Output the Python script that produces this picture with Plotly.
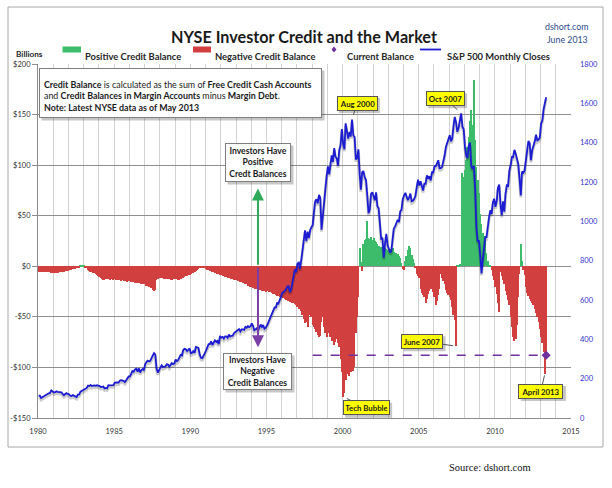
import plotly.graph_objects as go
import pandas as pd

# ---------------- data ----------------
# NYSE credit balance, $ billions, monthly Jan-1980 .. May-2013
credit = [
    # 1980
    -6, -6, -6, -6, -6, -6, -6, -6, -6, -6, -7, -7,
    # 1981
    -7, -7, -7, -7, -6, -6, -6, -6, -6, -5, -5, -5,
    # 1982
    -4, -4, -4, -3, -3, -3, -2, -2, -1, 0.5, 1, 1.5,
    # 1983
    1, -1, -2, -4, -5, -6, -6, -7, -7, -8, -9, -10,
    # 1984
    -11, -12, -13, -14, -14, -13, -13, -13, -14, -13, -13, -14,
    # 1985
    -13, -14, -14, -14, -14, -15, -14, -15, -15, -15, -16, -15,
    # 1986
    -15, -16, -16, -16, -17, -16, -17, -17, -17, -18, -18, -18,
    # 1987
    -18, -19, -19, -20, -20, -21, -23, -24, -23, -14, -13, -12,
    # 1988
    -12, -12, -12, -13, -13, -13, -13, -13, -14, -14, -13, -13,
    # 1989
    -13, -13, -14, -14, -13, -12, -12, -11, -10, -10, -9, -9,
    # 1990
    -8, -7, -7, -6, -5, -4, -3, -2, -1, -1, -1.5, -2,
    # 1991
    -3, -4, -4, -5, -5, -6, -6, -7, -7, -8, -8, -9,
    # 1992
    -9, -10, -10, -11, -11, -12, -12, -12, -13, -13, -14, -14,
    # 1993
    -14, -15, -15, -16, -16, -17, -17, -18, -18, -19, -19, -20,
    # 1994
    -20, -21, -21, -22, -22, -22, -23, -23, -24, -24, -24, -25,
    # 1995
    -24, -24, -25, -25, -26, -27, -27, -28, -29, -29, -30, -30,
    # 1996
    -30, -31, -32, -33, -33, -34, -35, -34, -36, -36, -37, -38,
    # 1997
    -40, -42, -38, -44, -48, -52, -56, -55, -60, -48, -45, -50,
    # 1998
    -58, -60, -62, -65, -68, -70, -69, -55, -50, -60, -66, -70,
    # 1999
    -66, -60, -70, -74, -72, -78, -75, -72, -76, -80, -92, -105,
    # 2000
    -129, -125, -112, -106, -102, -108, -105, -100, -104, -100, -66, -50,
    # 2001
    -30, 18, 4, -5, 22, 26, 27, 45, 28, 27, 29, 26,
    # 2002
    28, 25, 24, 22, 20, 19, 18, 19, 17, 18, 17, 16,
    # 2003
    16, 15, 17, 18, 14, 13, 13, 12, 10, 8, 3, -3,
    # 2004
    -4, 5, 10, 16, 20, 18, 11, 7, 3, -2, -8, -10,
    # 2005
    -12, -22, -26, -28, -30, -36, -32, -27, -24, -22, -17, -25,
    # 2006
    -30, -38, -34, -28, -22, -8, -12, -15, -18, -23, -26, -28,
    # 2007
    -30, -33, -40, -48, -53, -79, 0.5, 1, 2, 2, 92, 88,
    # 2008
    95, 105, 118, 128, 144, 155, 140, 184, 125, 98, 85, 72,
    # 2009
    52, 42, 33, 30, 26, 13, 5, 1, 0.5, -4, -10, -14,
    # 2010
    -20, -27, -36, -45, -6, -10, -14, -18, -24, -28, -33, -38,
    # 2011
    -50, -60, -70, -74, -72, -58, -30, -8, 22, 5, -4, -9,
    # 2012
    -20, -26, -29, -32, -34, -36, -38, -42, -46, -50, -55, -62,
    # 2013
    -70, -76, -85, -106, -88,
]

# S&P 500 monthly closes, Jan-1980 .. May-2013
sp500 = [
    114.16, 113.66, 102.09, 106.29, 111.24, 114.24, 121.67, 122.38, 125.46, 127.47, 140.52, 135.76,
    129.55, 131.27, 136.00, 132.81, 132.59, 131.21, 130.92, 122.79, 116.18, 121.89, 126.35, 122.55,
    120.40, 113.11, 111.96, 116.44, 111.88, 109.61, 107.09, 119.51, 120.42, 133.71, 138.54, 140.64,
    145.30, 148.06, 152.96, 164.42, 162.39, 168.11, 162.56, 164.40, 166.07, 163.55, 166.40, 164.93,
    163.41, 157.06, 159.18, 160.05, 150.55, 153.18, 150.66, 166.68, 166.10, 166.09, 163.58, 167.24,
    179.63, 181.18, 180.66, 179.83, 189.55, 191.85, 190.92, 188.63, 182.08, 189.82, 202.17, 211.28,
    211.78, 226.92, 238.90, 235.52, 247.35, 250.84, 236.12, 252.93, 231.32, 243.98, 249.22, 242.17,
    274.08, 284.20, 291.70, 288.36, 290.10, 304.00, 318.66, 329.80, 321.83, 251.79, 230.30, 247.08,
    257.07, 267.82, 258.89, 261.33, 262.16, 273.50, 272.02, 261.52, 271.91, 278.97, 273.70, 277.72,
    297.47, 288.86, 294.87, 309.64, 320.52, 317.98, 346.08, 351.45, 349.15, 340.36, 345.99, 353.40,
    329.08, 331.89, 339.94, 330.80, 361.23, 358.02, 356.15, 322.56, 306.05, 304.00, 322.22, 330.22,
    343.93, 367.07, 375.22, 375.35, 389.83, 371.16, 387.81, 395.43, 387.86, 392.46, 375.22, 417.09,
    408.79, 412.70, 403.69, 414.95, 415.35, 408.14, 424.21, 414.03, 417.80, 418.68, 431.35, 435.71,
    438.78, 443.38, 451.67, 440.19, 450.19, 450.53, 448.13, 463.56, 458.93, 467.83, 461.79, 466.45,
    481.61, 467.14, 445.77, 450.91, 456.50, 444.27, 458.26, 475.49, 462.69, 472.35, 453.69, 459.27,
    470.42, 487.39, 500.71, 514.71, 533.40, 544.75, 562.06, 561.88, 584.41, 581.50, 605.37, 615.93,
    636.02, 640.43, 645.50, 654.17, 669.12, 670.63, 639.95, 651.99, 687.33, 705.27, 757.02, 740.74,
    786.16, 790.82, 757.12, 801.34, 848.28, 885.14, 954.29, 899.47, 947.28, 914.62, 955.40, 970.43,
    980.28, 1049.34, 1101.75, 1111.75, 1090.82, 1133.84, 1120.67, 957.28, 1017.01, 1098.67, 1163.63, 1229.23,
    1279.64, 1238.33, 1286.37, 1335.18, 1301.84, 1372.71, 1328.72, 1320.41, 1282.71, 1362.93, 1388.91, 1469.25,
    1394.46, 1366.42, 1498.58, 1452.43, 1420.60, 1454.60, 1430.83, 1517.68, 1436.51, 1429.40, 1314.95, 1320.28,
    1366.01, 1239.94, 1160.33, 1249.46, 1255.82, 1224.42, 1211.23, 1133.58, 1040.94, 1059.78, 1139.45, 1148.08,
    1130.20, 1106.73, 1147.39, 1076.92, 1067.14, 989.82, 911.62, 916.07, 815.28, 885.76, 936.31, 879.82,
    855.70, 841.15, 848.18, 916.92, 963.59, 974.50, 990.31, 1008.01, 995.97, 1050.71, 1058.20, 1111.92,
    1131.13, 1144.94, 1126.21, 1107.30, 1120.68, 1140.84, 1101.72, 1104.24, 1114.58, 1130.20, 1173.82, 1211.92,
    1181.27, 1203.60, 1180.59, 1156.85, 1191.50, 1191.33, 1234.18, 1220.33, 1228.81, 1207.01, 1249.48, 1248.29,
    1280.08, 1280.66, 1294.83, 1310.61, 1270.09, 1270.20, 1276.66, 1303.82, 1335.85, 1377.94, 1400.63, 1418.30,
    1438.24, 1406.82, 1420.86, 1482.37, 1530.62, 1503.35, 1455.27, 1473.99, 1526.75, 1549.38, 1481.14, 1468.36,
    1378.55, 1330.63, 1322.70, 1385.59, 1400.38, 1280.00, 1267.38, 1282.83, 1166.36, 968.75, 896.24, 903.25,
    825.88, 735.09, 797.87, 872.81, 919.14, 919.32, 987.48, 1020.62, 1057.08, 1036.19, 1095.63, 1115.10,
    1073.87, 1104.49, 1169.43, 1186.69, 1089.41, 1030.71, 1101.60, 1049.33, 1141.20, 1183.26, 1180.55, 1257.64,
    1286.12, 1327.22, 1325.83, 1363.61, 1345.20, 1320.64, 1292.28, 1218.89, 1131.42, 1253.30, 1246.96, 1257.60,
    1312.41, 1365.68, 1408.47, 1397.91, 1310.33, 1362.16, 1379.32, 1406.58, 1440.67, 1412.16, 1416.18, 1426.19,
    1498.11, 1514.68, 1569.19, 1597.57, 1630.74,
]

first_month = "1980-01"
dashed_from = "1998-01"          # start of the "current balance" reference line
left_ticks = [-150, -100, -50, 0, 50, 100, 150, 200]
left_labels = ["-$150", "-$100", "-$50", "$0", "$50", "$100", "$150", "$200"]
right_ticks = [0, 200, 400, 600, 800, 1000, 1200, 1400, 1600, 1800]
x_tick_years = [1980, 1985, 1990, 1995, 2000, 2005, 2010, 2015]

# ---------------- styling ----------------
GREEN = "#3dbd6c"
RED = "#d13f3f"
PURPLE = "#7030a0"
BLUE = "#1c1cd2"
RIGHT_BLUE = "#3333cc"
FONT = "Lato"
W, H = 612, 488
ML, MR, MT, MB = 38, 41, 64, 70
PW, PH = W - ML - MR, H - MT - MB
SHADOW = "rgba(0,0,0,0.22)"
SH = 2.5   # shadow offset in px


def px(xpix):   # pixel -> paper x
    return (xpix - ML) / PW


def py(ypix):   # pixel -> paper y
    return (H - MB - ypix) / PH


months = pd.date_range(first_month + "-01", periods=len(credit), freq="MS")
dates = months + pd.Timedelta(days=14)
month_keys = list(months.strftime("%Y-%m"))
pos = [v if v > 0 else None for v in credit]
neg = [v if v < 0 else None for v in credit]
dash_idx = month_keys.index(dashed_from)

fig = go.Figure()
fig.add_trace(go.Bar(x=dates, y=pos, marker=dict(color=GREEN, line=dict(width=0)),
                     name="Positive Credit Balance", showlegend=False))
fig.add_trace(go.Bar(x=dates, y=neg, marker=dict(color=RED, line=dict(width=0)),
                     name="Negative Credit Balance", showlegend=False))
fig.add_trace(go.Scatter(x=[dates[dash_idx], dates[-1]], y=[credit[-1], credit[-1]],
                         mode="lines", line=dict(color=PURPLE, width=1.4, dash="dash"),
                         showlegend=False, hoverinfo="skip"))
fig.add_trace(go.Scatter(x=[dates[-1]], y=[credit[-1]], mode="markers",
                         marker=dict(symbol="diamond", size=7, color=PURPLE),
                         name="Current Balance", showlegend=False))
# soft shadow of the S&P line (same data on an invisible, slightly shifted axis)
fig.add_trace(go.Scatter(x=dates, y=sp500, yaxis="y2", mode="lines",
                         line=dict(color="rgba(0,0,0,0.20)", width=3),
                         showlegend=False, hoverinfo="skip"))
fig.add_trace(go.Scatter(x=dates, y=sp500, yaxis="y3", mode="lines",
                         line=dict(color=BLUE, width=1.8),
                         name="S&P 500 Monthly Closes", showlegend=False))

shadow_shift = 2 * 1800 / PH
fig.update_layout(
    width=W, height=H, autosize=False,
    margin=dict(l=ML, r=MR, t=MT, b=MB, autoexpand=False),
    paper_bgcolor="white", plot_bgcolor="white",
    barmode="overlay", bargap=0,
    font=dict(family=FONT, color="#262626"),
    xaxis=dict(type="date", range=["1980-01-01", "2015-01-01"],
               tickvals=[f"{y}-01-01" for y in x_tick_years],
               ticktext=[str(y) for y in x_tick_years],
               tickfont=dict(size=7.5, color="#333333", family=FONT),
               showgrid=True, gridcolor="#d3d3d3", gridwidth=1,
               minor=dict(dtick="M12", showgrid=True, gridcolor="#d3d3d3"),
               showline=True, linecolor="#8c8c8c", linewidth=1,
               ticks="", ticklabelstandoff=6, zeroline=False),
    yaxis=dict(range=[-150, 200], tickvals=left_ticks, ticktext=left_labels,
               tickfont=dict(size=7.5, color="#333333", family=FONT),
               showgrid=True, gridcolor="#8f8f8f", gridwidth=1, zeroline=False,
               showline=True, linecolor="#8c8c8c", ticks="outside", ticklen=5,
               tickcolor="#8f8f8f"),
    yaxis2=dict(overlaying="y", range=[shadow_shift, 1800 + shadow_shift], visible=False),
    yaxis3=dict(overlaying="y", side="right", range=[0, 1800], tickvals=right_ticks,
                tickfont=dict(size=7.5, color=RIGHT_BLUE, family=FONT),
                showgrid=False, zeroline=False, showline=False, ticks="",
                ticklabelstandoff=8),
)

shapes = []
ann = []

# outer frame
shapes.append(dict(type="rect", xref="paper", yref="paper", x0=px(8), x1=px(603),
                   y0=py(447), y1=py(7), line=dict(color="#a8a8a8", width=1),
                   fillcolor="rgba(0,0,0,0)", layer="below"))

# title and credits
ann.append(dict(text="<b>NYSE Investor Credit and the Market</b>", xref="paper", yref="paper",
                x=px(304), y=py(25), showarrow=False, font=dict(size=16.2, color="#1a1a1a")))
ann.append(dict(text="dshort.com", xref="paper", yref="paper", x=px(590), y=py(19),
                xanchor="right", showarrow=False, font=dict(size=8.8, color="#2e4a8e")))
ann.append(dict(text="June 2013", xref="paper", yref="paper", x=px(590), y=py(32),
                xanchor="right", showarrow=False, font=dict(size=8.8, color="#2e4a8e")))
ann.append(dict(text="Source: dshort.com", xref="paper", yref="paper", x=px(533), y=py(475),
                showarrow=False, font=dict(size=10.5, color="#111111", family="Liberation Serif")))
ann.append(dict(text="<b>Billions</b>", xref="paper", yref="paper", x=px(14), y=py(47.5),
                xanchor="left", showarrow=False, font=dict(size=8.2, color="#262626")))

# manual legend
LEG_Y = 49.5
shapes.append(dict(type="rect", xref="paper", yref="paper", x0=px(62.5), x1=px(81),
                   y0=py(LEG_Y + 3), y1=py(LEG_Y - 3), fillcolor=GREEN, line=dict(width=0)))
shapes.append(dict(type="rect", xref="paper", yref="paper", x0=px(193), x1=px(211),
                   y0=py(LEG_Y + 3), y1=py(LEG_Y - 3), fillcolor=RED, line=dict(width=0)))
shapes.append(dict(type="line", xref="paper", yref="paper", x0=px(420), x1=px(441),
                   y0=py(LEG_Y), y1=py(LEG_Y), line=dict(color=BLUE, width=1.8)))
shapes.append(dict(type="path", xref="paper", yref="paper",
                   path=f"M{px(334)},{py(LEG_Y-3)} L{px(336.5)},{py(LEG_Y)} L{px(334)},{py(LEG_Y+3)} L{px(331.5)},{py(LEG_Y)} Z",
                   fillcolor=PURPLE, line=dict(width=0)))
for label, xl in [("Positive Credit Balance", 83), ("Negative Credit Balance", 213),
                  ("Current Balance", 345), ("S&P 500 Monthly Closes", 445)]:
    ann.append(dict(text=f"<b>{label}</b>", xref="paper", yref="paper", x=px(xl), y=py(LEG_Y),
                    xanchor="left", showarrow=False, font=dict(size=9.4, color="#262626")))


def paper_box(text, left, top, w, h, size, align="center", valign="middle", pad=2):
    """white box with a drop shadow, given by its outer pixel rectangle"""
    shapes.append(dict(type="rect", xref="paper", yref="paper",
                       x0=px(left + SH), x1=px(left + w + SH),
                       y0=py(top + h + SH), y1=py(top + SH),
                       fillcolor=SHADOW, line=dict(width=0), layer="above"))
    ann.append(dict(text=text, xref="paper", yref="paper", x=px(left), y=py(top),
                    xanchor="left", yanchor="top", width=w - 2 * (pad + 1), height=h - 2 * (pad + 1),
                    align=align, valign=valign, borderpad=pad, borderwidth=1,
                    bordercolor="#7f7f7f", bgcolor="white", showarrow=False,
                    font=dict(size=size, color="#1a1a1a")))


paper_box("<b>Credit Balance</b> is calculated as the sum of <b>Free Credit Cash Accounts</b><br>"
          "and <b>Credit Balances in Margin Accounts</b> minus <b>Margin Debt</b>.<br>"
          "<b>Note: Latest NYSE data as of May 2013</b>",
          39, 68, 283, 50, 8.9, align="left", valign="bottom", pad=4)
paper_box("<b>Investors Have<br>Positive<br>Credt Balances</b>", 225, 143, 66, 39, 8.6)
paper_box("<b>Investors Have<br>Negative<br>Credit Balances</b>", 223, 353, 69, 37, 8.6)

# green / purple arrows
arrow_date = "1994-06-12"
ann.append(dict(text="", x=arrow_date, y=77, xref="x", yref="y", ax=arrow_date, ay=0,
                axref="x", ayref="y", showarrow=True, arrowhead=2, arrowsize=1.2,
                arrowwidth=2, arrowcolor="#2eaa5a"))
ann.append(dict(text="", x=arrow_date, y=-80, xref="x", yref="y", ax=arrow_date, ay=0,
                axref="x", ayref="y", showarrow=True, arrowhead=2, arrowsize=1.2,
                arrowwidth=2, arrowcolor="#7b3fa8"))

YEL = "#ffff00"


def callout(text, key, series, yref, ax, ay, w, standoff):
    """yellow label box pointing at a data point, with a drop shadow"""
    i = month_keys.index(key)
    xv, yv = dates[i], series[i]
    pad, bw, h = 1.5, 1, 10
    ow, oh = w + 2 * (pad + bw), h + 2 * (pad + bw)
    shapes.append(dict(type="rect", xref="x", yref=yref, xsizemode="pixel", ysizemode="pixel",
                       xanchor=xv, yanchor=yv,
                       x0=ax - ow / 2 + SH, x1=ax + ow / 2 + SH,
                       y0=-ay - oh / 2 - SH, y1=-ay + oh / 2 - SH,
                       fillcolor=SHADOW, line=dict(width=0), layer="above"))
    ann.append(dict(text=f"<b>{text}</b>", x=xv, y=yv, xref="x", yref=yref, ax=ax, ay=ay,
                    showarrow=True, arrowhead=0, arrowwidth=1, arrowcolor="#555555",
                    standoff=standoff, width=w, height=h, borderpad=pad, borderwidth=bw,
                    bordercolor="#555555", bgcolor=YEL, font=dict(size=7.8, color="#1a1a1a")))


callout("Aug 2000", "2000-08", sp500, "y3", 5, -16.5, 36, 5)
callout("Oct 2007", "2007-10", sp500, "y3", -16, -15, 34, 5)
callout("Tech Bubble", "2000-01", credit, "y", 23, 11, 42, 4)
callout("June 2007", "2007-06", credit, "y", -34, -5, 37, 3)
callout("April 2013", "2013-04", credit, "y", -4, 17.5, 40, 2)

fig.update_layout(shapes=shapes, annotations=ann)
fig.write_html("out.html", config={"displayModeBar": False},
               post_script="document.body.style.margin='0';document.body.style.overflow='hidden';")
